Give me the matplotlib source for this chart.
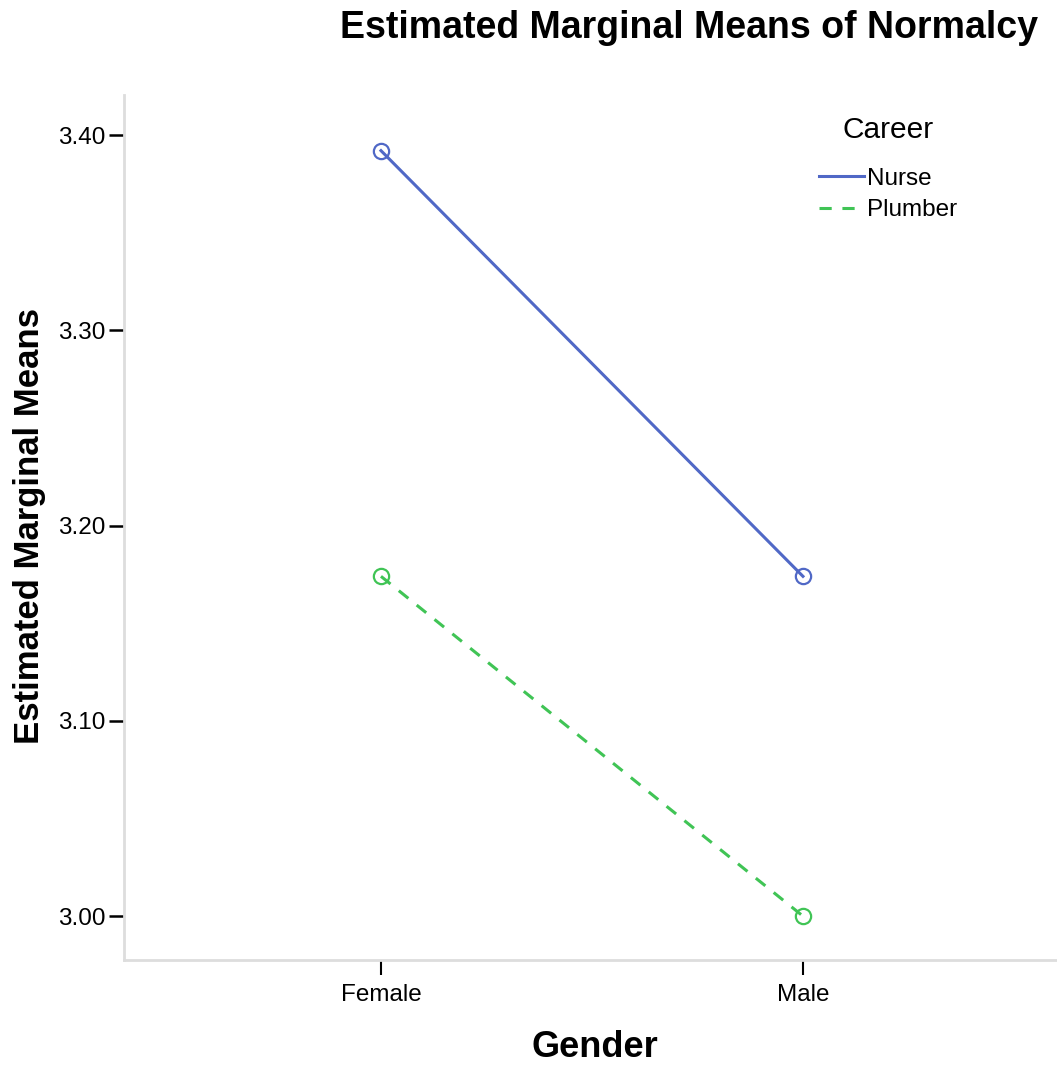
import matplotlib.pyplot as plt

plt.rcParams['font.family'] = ['Liberation Sans', 'DejaVu Sans']

genders = ['Female', 'Male']
nurse = [3.392, 3.174]
plumber = [3.174, 3.000]
yticks = [3.00, 3.10, 3.20, 3.30, 3.40]

fig = plt.figure(figsize=(10.57, 10.66), dpi=100)
ax = fig.add_axes([0.1173, 0.0994, 0.8827, 0.8115])

x = list(range(len(genders)))
ax.plot(x, nurse, color='#5068c6', lw=2.2, marker='o', ms=11, mfc='none',
        mew=1.6, label='Nurse')
ax.plot(x, plumber, color='#40c455', lw=2.2, ls=(0, (4, 3.5)), marker='o', ms=11,
        mfc='none', mew=1.6, label='Plumber')

ax.set_xlim(-0.609, 1.602)
ax.set_ylim(2.9775, 3.4205)
ax.set_xticks(x)
ax.set_xticklabels(genders)
ax.set_yticks(yticks)
ax.set_yticklabels(['%.2f' % v for v in yticks])
ax.tick_params(axis='both', labelsize=17.5, length=11, color='black')
ax.tick_params(axis='y', width=1.8, pad=2)
ax.tick_params(axis='x', width=1.5, pad=6)

for s in ['top', 'right']:
    ax.spines[s].set_visible(False)
for s in ['left', 'bottom']:
    ax.spines[s].set_color('#dddddd')
    ax.spines[s].set_linewidth(2)

ax.set_xlabel('Gender', fontsize=26, fontweight='bold')
ax.xaxis.set_label_coords(0.505, -0.081)
ax.set_ylabel('Estimated Marginal Means', fontsize=25, fontweight='bold')
ax.yaxis.set_label_coords(-0.084, 0.502)
fig.text(0.652, 0.974, 'Estimated Marginal Means of Normalcy', fontsize=27,
         fontweight='bold', ha='center', va='center')

leg = ax.legend(title='Career', loc='upper left', bbox_to_anchor=(0.722, 1.001),
                frameon=False, fontsize=17.5, title_fontsize=21.5, handlelength=1.85,
                handletextpad=0.12, labelspacing=0.4)
leg._legend_box.align = 'center'
leg._legend_box.sep = 17
for h in leg.legend_handles:
    h.set_marker('')

fig.savefig('out.png', dpi=100)
